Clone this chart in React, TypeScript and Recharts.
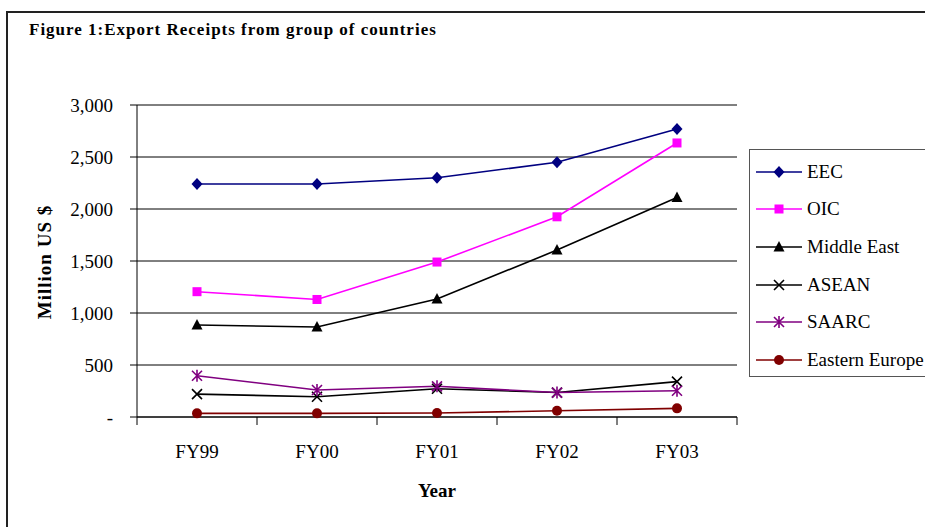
import React from "react";
import { CartesianGrid, Line, LineChart, XAxis, YAxis } from "recharts";

const SERIF = "'Liberation Serif', 'Times New Roman', serif";

const years = ["FY99", "FY00", "FY01", "FY02", "FY03"];
const eec = [2240, 2240, 2300, 2450, 2770];
const oic = [1205, 1130, 1490, 1925, 2635];
const middleEast = [885, 865, 1135, 1605, 2110];
const asean = [220, 195, 272, 235, 340];
const saarc = [397, 260, 295, 235, 252];
const easternEurope = [35, 35, 38, 60, 83];
const yTicks = [0, 500, 1000, 1500, 2000, 2500, 3000];

const series = [
  { key: "EEC", values: eec, color: "#000080", marker: "diamond" },
  { key: "OIC", values: oic, color: "#ff00ff", marker: "square" },
  { key: "Middle East", values: middleEast, color: "#000000", marker: "triangle" },
  { key: "ASEAN", values: asean, color: "#000000", marker: "cross" },
  { key: "SAARC", values: saarc, color: "#800080", marker: "star" },
  { key: "Eastern Europe", values: easternEurope, color: "#800000", marker: "circle" },
];

const data = years.map((year, i) => {
  const row: Record<string, string | number> = { year };
  series.forEach((s) => (row[s.key] = s.values[i]));
  return row;
});

// plot geometry: 600px wide, 5 categories
const BAND = 120;
const AXIS_Y = 417;

function Marker({ type, cx, cy, color }: { type: string; cx: number; cy: number; color: string }) {
  switch (type) {
    case "diamond":
      return <path d={`M${cx},${cy - 6} L${cx + 5.5},${cy} L${cx},${cy + 6} L${cx - 5.5},${cy} Z`} fill={color} />;
    case "square":
      return <rect x={cx - 4.5} y={cy - 4.5} width={9} height={9} fill={color} />;
    case "triangle":
      return <path d={`M${cx},${cy - 6} L${cx + 5.5},${cy + 4.5} L${cx - 5.5},${cy + 4.5} Z`} fill={color} />;
    case "cross":
      return (
        <path
          d={`M${cx - 5},${cy - 5} L${cx + 5},${cy + 5} M${cx + 5},${cy - 5} L${cx - 5},${cy + 5}`}
          stroke={color}
          strokeWidth={1.6}
        />
      );
    case "star":
      return (
        <path
          d={`M${cx - 5},${cy - 5} L${cx + 5},${cy + 5} M${cx + 5},${cy - 5} L${cx - 5},${cy + 5} M${cx},${cy - 6} L${cx},${cy + 6}`}
          stroke={color}
          strokeWidth={1.6}
        />
      );
    default:
      return <circle cx={cx} cy={cy} r={5} fill={color} />;
  }
}

function makeDot(type: string, color: string) {
  return (props: any) => {
    const { cx, cy, index } = props;
    if (cx == null || cy == null) return <g key={index} />;
    return (
      <g key={`${type}-${index}`}>
        <Marker type={type} cx={cx} cy={cy} color={color} />
      </g>
    );
  };
}

function YearTick(props: any) {
  const { x, payload, index } = props;
  return (
    <g>
      <line x1={x - BAND / 2} x2={x - BAND / 2} y1={AXIS_Y} y2={AXIS_Y + 8} stroke="#000" />
      {index === years.length - 1 && (
        <line x1={x + BAND / 2} x2={x + BAND / 2} y1={AXIS_Y} y2={AXIS_Y + 8} stroke="#000" />
      )}
      <text x={x} y={458} textAnchor="middle" fontFamily={SERIF} fontSize={19} fill="#000">
        {payload.value}
      </text>
    </g>
  );
}

function LegendBox() {
  return (
    <div
      style={{
        position: "absolute",
        left: 749,
        top: 149,
        width: 200,
        height: 228,
        border: "1px solid #555",
        background: "#fff",
        boxSizing: "border-box",
        paddingTop: 3,
      }}
    >
      {series.map((s) => (
        <div key={s.key} style={{ height: 37.6, display: "flex", alignItems: "center" }}>
          <svg width={57} height={20} style={{ flex: "none" }}>
            <line x1={6} x2={52} y1={10} y2={10} stroke={s.color} strokeWidth={1.6} />
            <Marker type={s.marker} cx={29} cy={10} color={s.color} />
          </svg>
          <span style={{ fontFamily: SERIF, fontSize: 19, color: "#000", whiteSpace: "nowrap" }}>{s.key}</span>
        </div>
      ))}
    </div>
  );
}

export default function App() {
  return (
    <div style={{ position: "absolute", left: 0, top: 0, width: 925, height: 527, overflow: "hidden", background: "#fff" }}>
      <div
        style={{
          position: "absolute",
          left: 6,
          top: 11,
          width: 1000,
          height: 600,
          borderLeft: "2px solid #222",
          borderTop: "2px solid #222",
        }}
      />
      <div
        style={{
          position: "absolute",
          left: 29,
          top: 20,
          fontFamily: SERIF,
          fontWeight: "bold",
          fontSize: 17,
          letterSpacing: 1,
          whiteSpace: "nowrap",
        }}
      >
        Figure 1:Export Receipts from group of countries
      </div>
      <div style={{ position: "absolute", left: 0, top: 0 }}>
        <LineChart width={925} height={527} data={data} margin={{ top: 105, right: 188, bottom: 50, left: 0 }}>
          <CartesianGrid vertical={false} stroke="#000" strokeWidth={1} />
          <XAxis
            dataKey="year"
            height={60}
            stroke="#000"
            tickLine={false}
            tick={<YearTick />}
            interval={0}
            padding={{ left: BAND / 2, right: BAND / 2 }}
          />
          <YAxis
            width={137}
            domain={[0, 3000]}
            ticks={yTicks}
            stroke="#000"
            tickSize={7}
            tickMargin={17}
            tick={{ fontFamily: SERIF, fontSize: 19, fill: "#000" }}
            tickFormatter={(v: number) => (v === 0 ? "-" : v.toLocaleString("en-US"))}
          />
          {series.map((s) => (
            <Line
              key={s.key}
              dataKey={s.key}
              stroke={s.color}
              strokeWidth={1.6}
              dot={makeDot(s.marker, s.color)}
              activeDot={false}
              isAnimationActive={false}
            />
          ))}
        </LineChart>
      </div>
      <LegendBox />
      <div
        style={{
          position: "absolute",
          left: 437,
          top: 480,
          transform: "translateX(-50%)",
          fontFamily: SERIF,
          fontWeight: "bold",
          fontSize: 19,
        }}
      >
        Year
      </div>
      <div
        style={{
          position: "absolute",
          left: 45,
          top: 262,
          transform: "translate(-50%, -50%) rotate(-90deg)",
          fontFamily: SERIF,
          fontWeight: "bold",
          fontSize: 19,
          letterSpacing: 1,
          whiteSpace: "nowrap",
        }}
      >
        Million US $
      </div>
    </div>
  );
}
